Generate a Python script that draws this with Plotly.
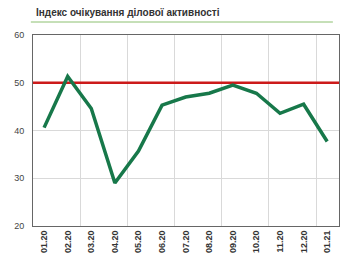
import plotly.graph_objects as go

categories = ["01.20", "02.20", "03.20", "04.20", "05.20", "06.20", "07.20",
              "08.20", "09.20", "10.20", "11.20", "12.20", "01.21"]
index_values = [40.6, 51.3, 44.6, 29.0, 35.7, 45.3, 47.0, 47.8, 49.5, 47.8, 43.6, 45.5, 37.7]
threshold = 50
title_text = "Індекс очікування ділової активності"

xpos = list(range(len(categories)))
FONT = "Liberation Sans, Arial, sans-serif"

fig = go.Figure()
fig.add_trace(go.Scatter(
    x=[-0.47, 12.5], y=[threshold, threshold], mode="lines",
    line=dict(color="#cc1a1a", width=2.5), hoverinfo="skip", showlegend=False))
fig.add_trace(go.Scatter(
    x=xpos, y=index_values, mode="lines",
    line=dict(color="#17784a", width=3.5), showlegend=False))

fig.update_layout(
    width=358, height=265,
    margin=dict(l=33, r=19, t=35, b=39),
    paper_bgcolor="white", plot_bgcolor="white",
    font=dict(family=FONT, size=9, color="#333333"),
    xaxis=dict(
        range=[-0.47, 12.5], tickmode="array", tickvals=xpos, ticktext=categories,
        tickangle=-90, showgrid=False, zeroline=False,
        tickfont=dict(family=FONT, size=9, color="#333333", weight="bold"),
        showline=True, linecolor="#666666", linewidth=1, mirror=True,
        ticks="", ticklen=0,
        minor=dict(tickmode="linear", tick0=-0.47, dtick=2, showgrid=True,
                   gridcolor="#d9d9d9", gridwidth=1, ticks=""),
    ),
    yaxis=dict(
        range=[20, 60], dtick=10, tick0=20, showgrid=True, gridcolor="#d9d9d9",
        gridwidth=1, zeroline=False, showline=True, linecolor="#666666",
        linewidth=1, mirror=True, ticks="", ticklabelstandoff=6,
        tickfont=dict(family=FONT, size=9, color="#444444"),
    ),
    annotations=[dict(
        text="<b>" + title_text + "</b>", xref="paper", yref="paper",
        x=0.003, y=1.118, xanchor="left", yanchor="middle", showarrow=False,
        font=dict(family=FONT, size=10, color="#333333"))],
    shapes=[dict(type="line", xref="paper", yref="paper", x0=-0.007, x1=0.98,
                 y0=1.068, y1=1.068, line=dict(color="#8cc070", width=1))],
)

fig.write_html("out.html")
